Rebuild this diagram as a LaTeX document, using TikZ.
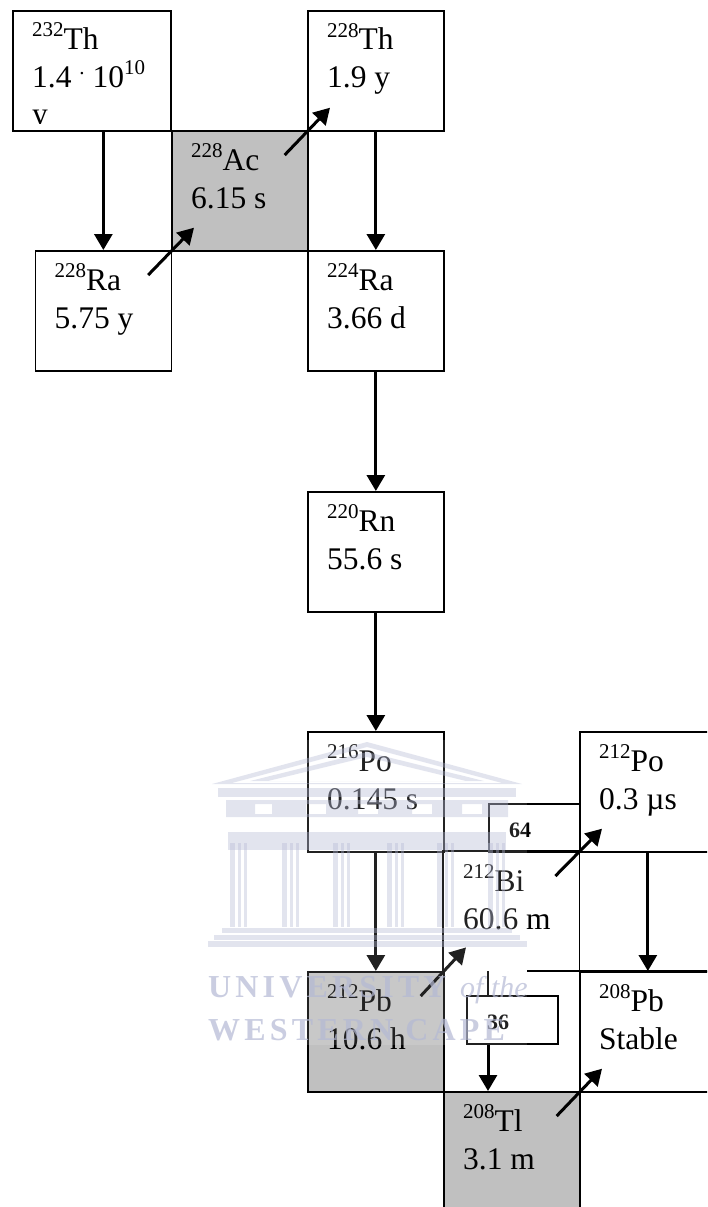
\documentclass[tikz,border=0pt]{standalone}
\usepackage{fontspec}
\usepackage{xcolor}
\usetikzlibrary{arrows.meta,calc}
\setmainfont{Liberation Serif}
\newfontfamily\wmfont[LetterSpace=13]{Liberation Serif Bold}
\definecolor{nucgrey}{HTML}{C0C0C0}
\definecolor{wmblue}{HTML}{B4B9D4}
\newcommand{\nucsup}[1]{\raisebox{13pt}{\fontsize{21}{21}\selectfont #1}}

\begin{document}
\begin{tikzpicture}[
  x=1pt, y=-1pt,
  nucbox/.style={draw=black, line width=1.7pt, anchor=north west, inner sep=0pt, minimum width=136pt, minimum height=120pt},
  nuctext/.style={anchor=base west, inner sep=0pt, font=\fontsize{31.5}{38}\selectfont},
  ratiobox/.style={draw=black, line width=1.7pt, anchor=north west, inner sep=0pt, minimum width=91pt, minimum height=48pt},
  ratiotext/.style={anchor=base west, inner sep=0pt, font=\fontsize{22}{24}\selectfont\bfseries},
  decay/.style={line width=3pt, -{Triangle[length=16pt,width=18pt]}},
  wmshape/.style={fill=wmblue, draw=none},
  wmtext/.style={anchor=base west, inner sep=0pt, text=wmblue},
]
\useasboundingbox (0,0) rectangle (707,1207);
\clip (0,0) rectangle (707,1207);

% ratio boxes sit under the nuclide boxes
\node[ratiobox] (box64) at (488,803) {};
\node[ratiotext] (box64t) at (509,837) {64};

% nuclide boxes
\foreach \name/\x/\y/\boxfill/\mass/\el/\life in {%
  ac228/171/130/nucgrey/228/Ac/{6.15 s},
  ra228/34.5/250/white/228/Ra/{5.75 y},
  th228/307/10/white/228/Th/{1.9 y},
  ra224/307/250/white/224/Ra/{3.66 d},
  rn220/307/491/white/220/Rn/{55.6 s},
  po216/307/731/white/216/Po/{0.145 s},
  pb212/307/971/nucgrey/212/Pb/{10.6 h},
  po212/579/731/white/212/Po/{0.3 µs},
  pb208/579/971/white/208/Pb/{Stable},
  tl208/443/1091/nucgrey/208/Tl/{3.1 m}%
} {
  \node[nucbox, fill=\boxfill] (\name) at (\x,\y) {};
  \node[nuctext] (\name-a) at (\x+20,\y+40) {\nucsup{\mass}\el};
  \node[nuctext] (\name-b) at (\x+20,\y+78) {\life};
}

% 232Th is wider and its last line is cut off
\node[nucbox, minimum width=158pt] (th232) at (12,10) {};
\node[nuctext] (th232-a) at (32,49) {\nucsup{232}Th};
\node[nuctext] (th232-b) at (32,87) {1.4 \nucsup{.} 10\nucsup{10}};
\begin{scope}
  \clip (th232.north west) rectangle ($(th232.south east)+(0,-8)$);
  \node[nuctext] (th232-c) at (32,124) {y};
\end{scope}

% 212Bi has no frame along the first part of its base
\node[anchor=north west, inner sep=0pt, minimum width=136pt, minimum height=120pt] (bi212) at (443,851) {};
\node[nuctext] (bi212-a) at (463,891) {\nucsup{212}Bi};
\node[nuctext] (bi212-b) at (463,929) {60.6 m};
\draw[line width=1.7pt] (bi212.south west) -- (bi212.north west) -- (bi212.north east) -- (bi212.south east);
\coordinate (bi212base) at (527,971);
\draw[line width=1.7pt] (bi212base) -- (pb208.north east);

\node[ratiobox, fill=white] (box36) at (466,995) {};
\node[ratiotext] (box36t) at (487,1029) {36};

% alpha decays
\draw[decay] (ra228.north |- th232.south) -- (ra228.north);
\draw[decay] (th228.south) -- (ra224.north);
\draw[decay] (ra224.south) -- (rn220.north);
\draw[decay] (rn220.south) -- (po216.north);
\draw[decay] (po216.south) -- (pb212.north);
\draw[decay] (po212.south) -- (pb208.north);
\draw[line width=2pt] (box64.west |- bi212.south) -- (box64.west |- box36.north);
\draw[decay] (box64.west |- box36.south) -- (box64.west |- tl208.north);

% beta decays
\foreach \from/\to in {ra228/ac228, ac228/th228, pb212/bi212, bi212/po212, tl208/pb208} {
  \draw[decay] ($(\from.north east)+(-24,25)$) -- ($(\to.south west)+(23,-24)$);
}

% watermark
\fill[white, opacity=0.13] (207,740) rectangle (527,1045);
\begin{scope}[opacity=0.38]
  \fill[wmshape, even odd rule] (212,784) -- (367,742) -- (522,784) -- cycle
    (232,783) -- (367,747) -- (502,783) -- cycle;
  \fill[wmshape, even odd rule] (250,781) -- (367,752) -- (484,781) -- cycle
    (268,781) -- (367,757) -- (466,781) -- cycle;
  \fill[wmshape] (218,788) rectangle (516,797);
  \fill[wmshape, even odd rule] (226,800) rectangle (508,817)
    (255,804) rectangle (272,814) (306,804) rectangle (326,814) (358,804) rectangle (378,814)
    (412,804) rectangle (432,814) (462,804) rectangle (482,814);
  \fill[wmshape] (228,832) rectangle (506,850);
  \foreach \x in {230,282,333,387,437,488} {
    \fill[wmshape] (\x,843) rectangle (\x+5,927);
    \fill[wmshape] (\x+8,843) rectangle (\x+11,927);
    \fill[wmshape] (\x+14,843) rectangle (\x+17,927);
  }
  \fill[wmshape] (222,928) rectangle (512,933);
  \fill[wmshape] (214,935) rectangle (520,940);
  \fill[wmshape] (208,941) rectangle (527,947);
\end{scope}
\begin{scope}[opacity=0.7]
  \node[wmtext, font=\fontsize{32}{34}\selectfont\wmfont] (wmuni) at (208,997) {UNIVERSITY};
  \node[wmtext, font=\fontsize{30}{34}\selectfont\itshape] (wmof) at (460,997) {of the};
  \node[wmtext, font=\fontsize{32}{34}\selectfont\wmfont] (wmwest) at (208,1040) {WESTERN CAPE};
\end{scope}
\end{tikzpicture}
\end{document}
